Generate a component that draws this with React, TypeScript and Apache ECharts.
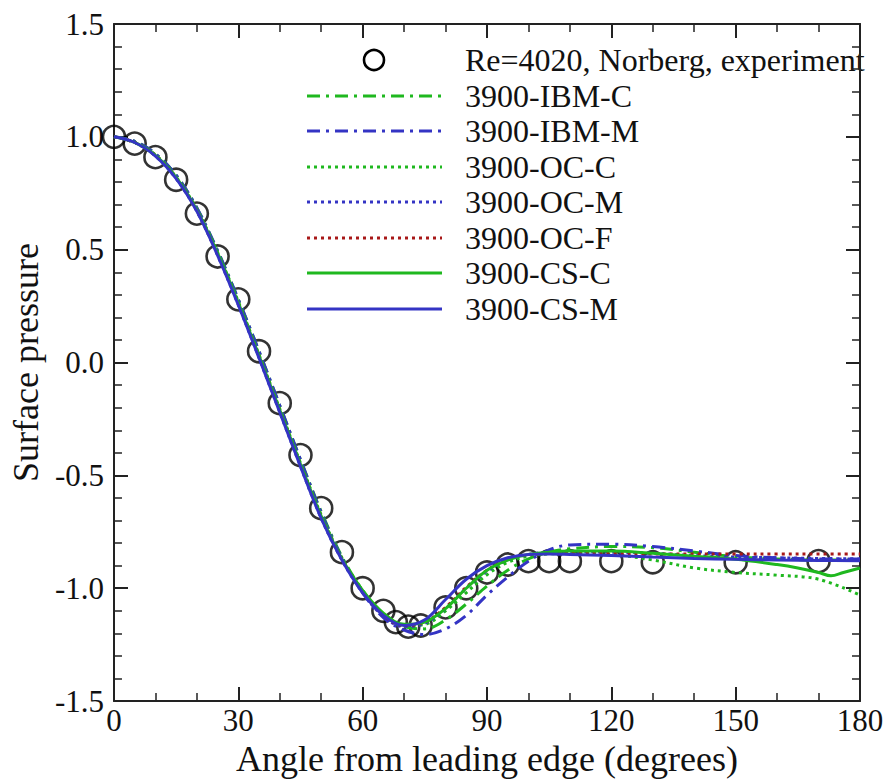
import React, { useEffect, useRef } from "react";
import * as echarts from "echarts";

// ---------- data ----------
const expAngles = [0, 5, 10, 15, 20, 25, 30, 35, 40, 45, 50, 55, 60, 65, 68, 71, 74, 80, 85, 90, 95, 100, 105, 110, 120, 130, 150, 170];
const expCp = [1.0, 0.97, 0.91, 0.81, 0.66, 0.47, 0.28, 0.05, -0.18, -0.41, -0.645, -0.84, -1.0, -1.1, -1.15, -1.17, -1.165, -1.085, -1.0, -0.93, -0.895, -0.88, -0.88, -0.88, -0.88, -0.885, -0.885, -0.88];

const lineAngles = [0, 5, 10, 15, 20, 25, 30, 35, 40, 45, 50, 55, 60, 65, 70, 75, 80, 85, 90, 95, 100, 105, 110, 120, 130, 140, 150, 160, 170, 180];
const ibmC = [1.0, 0.98, 0.925, 0.83, 0.685, 0.495, 0.28, 0.05, -0.19, -0.43, -0.66, -0.86, -1.01, -1.12, -1.17, -1.18, -1.14, -1.07, -0.99, -0.92, -0.87, -0.84, -0.825, -0.815, -0.82, -0.84, -0.86, -0.87, -0.875, -0.875];
const ibmM = [1.0, 0.98, 0.925, 0.83, 0.685, 0.495, 0.28, 0.05, -0.19, -0.43, -0.665, -0.865, -1.02, -1.13, -1.185, -1.205, -1.18, -1.12, -1.03, -0.95, -0.88, -0.83, -0.808, -0.805, -0.815, -0.835, -0.855, -0.865, -0.87, -0.87];
const ocC = [1.0, 0.975, 0.92, 0.822, 0.678, 0.488, 0.27, 0.035, -0.205, -0.445, -0.675, -0.865, -1.01, -1.115, -1.165, -1.16, -1.1, -1.02, -0.94, -0.885, -0.858, -0.848, -0.845, -0.85, -0.875, -0.91, -0.93, -0.942, -0.96, -1.03];
const ocM = [1.0, 0.975, 0.915, 0.815, 0.67, 0.475, 0.255, 0.02, -0.22, -0.46, -0.69, -0.875, -1.02, -1.125, -1.17, -1.155, -1.09, -1.0, -0.925, -0.875, -0.85, -0.84, -0.838, -0.84, -0.845, -0.855, -0.862, -0.865, -0.868, -0.87];
const ocF = [1.0, 0.975, 0.918, 0.818, 0.673, 0.48, 0.262, 0.028, -0.212, -0.452, -0.682, -0.87, -1.015, -1.12, -1.165, -1.15, -1.085, -0.995, -0.92, -0.872, -0.852, -0.846, -0.845, -0.846, -0.848, -0.848, -0.848, -0.848, -0.848, -0.848];
const csM = [1.0, 0.975, 0.915, 0.815, 0.67, 0.475, 0.255, 0.02, -0.22, -0.46, -0.69, -0.875, -1.02, -1.12, -1.165, -1.14, -1.05, -0.96, -0.9, -0.865, -0.85, -0.848, -0.85, -0.855, -0.862, -0.868, -0.872, -0.875, -0.877, -0.878];

const csCAngles = [0, 5, 10, 15, 20, 25, 30, 35, 40, 45, 50, 55, 60, 65, 70, 75, 80, 85, 90, 95, 100, 105, 110, 120, 130, 140, 150, 160, 165, 170, 173, 176, 180];
const csC = [1.0, 0.975, 0.918, 0.82, 0.675, 0.485, 0.265, 0.03, -0.21, -0.45, -0.68, -0.87, -1.01, -1.11, -1.16, -1.15, -1.09, -1.0, -0.92, -0.875, -0.85, -0.84, -0.835, -0.835, -0.845, -0.858, -0.872, -0.895, -0.91, -0.93, -0.945, -0.93, -0.91];

const legendLabels = ["Re=4020, Norberg, experiment", "3900-IBM-C", "3900-IBM-M", "3900-OC-C", "3900-OC-M", "3900-OC-F", "3900-CS-C", "3900-CS-M"];
const xTitle = "Angle from leading edge (degrees)";
const yTitle = "Surface pressure";

// ---------- styles ----------
const FONT = "'Liberation Serif', 'Times New Roman', serif";
const GREEN = "#1fb81f";
const BLUE = "#3434c4";
const RED = "#a81818";
const DASHDOT = [13, 6, 3, 6];
const DOTTED = [3, 4];

const lineDefs = [
  { name: legendLabels[1], ang: lineAngles, val: ibmC, color: GREEN, dash: DASHDOT },
  { name: legendLabels[2], ang: lineAngles, val: ibmM, color: BLUE, dash: DASHDOT },
  { name: legendLabels[3], ang: lineAngles, val: ocC, color: GREEN, dash: DOTTED },
  { name: legendLabels[4], ang: lineAngles, val: ocM, color: BLUE, dash: DOTTED },
  { name: legendLabels[5], ang: lineAngles, val: ocF, color: RED, dash: DOTTED },
  { name: legendLabels[6], ang: csCAngles, val: csC, color: GREEN, dash: "solid" },
  { name: legendLabels[7], ang: lineAngles, val: csM, color: BLUE, dash: "solid" },
];

function zip(a: number[], b: number[]) {
  return a.map((x, i) => [x, b[i]]);
}

const axisLineStyle = { color: "#222", width: 2 };

function buildOption() {
  const series: any[] = [
    {
      type: "scatter",
      name: legendLabels[0],
      data: zip(expAngles, expCp),
      symbol: "circle",
      symbolSize: 22,
      itemStyle: { color: "rgba(0,0,0,0)", borderColor: "#000", borderWidth: 2.6 },
      z: 2,
    },
  ];
  lineDefs.forEach((d) => {
    series.push({
      type: "line",
      name: d.name,
      data: zip(d.ang, d.val),
      showSymbol: false,
      symbol: "none",
      smooth: 0.35,
      lineStyle: { color: d.color, width: 3, type: d.dash as any },
      z: 3,
    });
  });

  const rowY = [60, 96, 131, 167, 202, 238, 273, 309];
  const graphic: any[] = [];
  graphic.push({
    type: "circle",
    shape: { cx: 374, cy: rowY[0], r: 10 },
    style: { fill: "none", stroke: "#000", lineWidth: 2.6 },
  });
  lineDefs.forEach((d, i) => {
    graphic.push({
      type: "line",
      shape: { x1: 307, y1: rowY[i + 1], x2: 442, y2: rowY[i + 1] },
      style: { stroke: d.color, lineWidth: 3, lineDash: d.dash === "solid" ? null : d.dash },
    });
  });
  legendLabels.forEach((t, i) => {
    graphic.push({
      type: "text",
      x: 465,
      y: rowY[i],
      style: { text: t, fontSize: 32, fontFamily: FONT, fill: "#111", verticalAlign: "middle", align: "left" },
    });
  });

  const commonX = {
    type: "value",
    min: 0,
    max: 180,
    interval: 30,
    axisLine: { show: true, onZero: false, lineStyle: axisLineStyle },
    axisTick: { show: true, inside: true, length: 14, lineStyle: { color: "#222", width: 2 } },
    minorTick: { show: true, splitNumber: 3, length: 8, lineStyle: { color: "#222", width: 1.5 } },
    splitLine: { show: false },
    minorSplitLine: { show: false },
  };
  const commonY = {
    type: "value",
    min: -1.5,
    max: 1.5,
    interval: 0.5,
    axisLine: { show: true, onZero: false, lineStyle: axisLineStyle },
    axisTick: { show: true, inside: true, length: 14, lineStyle: { color: "#222", width: 2 } },
    minorTick: { show: true, splitNumber: 5, length: 8, lineStyle: { color: "#222", width: 1.5 } },
    splitLine: { show: false },
    minorSplitLine: { show: false },
  };

  return {
    animation: false,
    backgroundColor: "#fff",
    grid: { left: 106, right: 28, top: 24, bottom: 74, containLabel: false },
    xAxis: [
      {
        ...commonX,
        position: "bottom",
        axisLabel: { show: true, margin: 4, fontSize: 31, fontFamily: FONT, color: "#111" },
        name: xTitle,
        nameLocation: "middle",
        nameGap: 32,
        nameTextStyle: { fontSize: 36, fontFamily: FONT, color: "#111" },
      },
      { ...commonX, position: "top", axisLabel: { show: false } },
    ],
    yAxis: [
      {
        ...commonY,
        position: "left",
        axisLabel: {
          show: true,
          margin: 10,
          fontSize: 31,
          fontFamily: FONT,
          color: "#111",
          formatter: (v: number) => v.toFixed(1),
        },
        name: yTitle,
        nameLocation: "middle",
        nameGap: 62,
        nameTextStyle: { fontSize: 36, fontFamily: FONT, color: "#111" },
      },
      { ...commonY, position: "right", axisLabel: { show: false } },
    ],
    series,
    graphic,
  };
}

export default function App() {
  const ref = useRef<HTMLDivElement>(null);
  useEffect(() => {
    if (!ref.current) return;
    const chart = echarts.init(ref.current, null, { renderer: "svg" });
    chart.setOption(buildOption() as any);
    return () => chart.dispose();
  }, []);
  return (
    <div
      ref={ref}
      style={{ position: "fixed", left: 0, top: 0, width: 888, height: 782, background: "#fff" }}
    />
  );
}
